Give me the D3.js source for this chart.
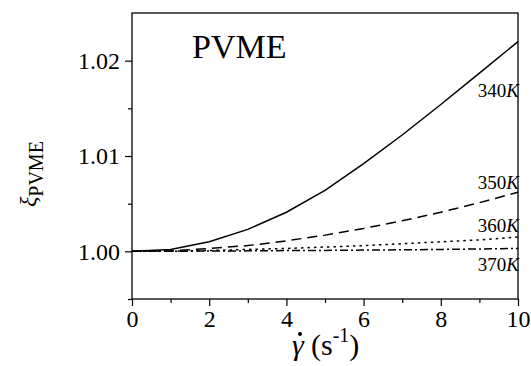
<!DOCTYPE html>
<html><head><meta charset="utf-8">
<script src="https://cdn.jsdelivr.net/npm/d3@7"></script>
<style>
html,body{margin:0;padding:0;background:#fff;}
</style></head>
<body>
<script>
const shearRates = [0,1,2,3,4,5,6,7,8,9,10];
const xi340 = [1.0000,1.0002,1.0010,1.0023,1.0041,1.0064,1.0092,1.0122,1.0154,1.0187,1.0220];
const xi350 = [1.0000,1.00005,1.0003,1.0006,1.0011,1.0017,1.0024,1.0032,1.0041,1.0051,1.0062];
const xi360 = [1.0000,1.00002,1.00008,1.0002,1.0003,1.00045,1.0006,1.0008,1.0010,1.0012,1.0015];
const xi370 = [1.0000,1.00001,1.00003,1.00005,1.00008,1.0001,1.00013,1.00016,1.0002,1.00025,1.0003];
const seriesLabels = ["340","350","360","370"];
const xMajorTicks = [0,2,4,6,8,10];
const xMinorTicks = [1,3,5,7,9];
const yMajorTicks = [1.00,1.01,1.02];
const yMinorTicks = [0.995,1.005,1.015];

const FONT="'Liberation Serif', 'Times New Roman', serif";
const W=531,H=366;
const m={left:132,right:13,top:13,bottom:67};
const svg=d3.select("body").append("svg").attr("width",W).attr("height",H).style("font-family",FONT);
const x=d3.scaleLinear().domain([0,10]).range([m.left,W-m.right]);
const y=d3.scaleLinear().domain([0.995,1.025]).range([H-m.bottom,m.top]);

// frame
svg.append("rect").attr("x",x(0)).attr("y",y(1.025)).attr("width",x(10)-x(0)).attr("height",y(0.995)-y(1.025))
  .attr("fill","none").attr("stroke","#000").attr("stroke-width",1.3);

// axes
svg.append("g").attr("transform",`translate(0,${y(0.995)})`)
  .call(d3.axisBottom(x).tickValues(xMajorTicks).tickSize(7).tickPadding(4).tickFormat(d3.format("d")));
svg.append("g").attr("transform",`translate(0,${y(0.995)})`)
  .call(d3.axisBottom(x).tickValues(xMinorTicks).tickSize(4).tickFormat(""));
svg.append("g").attr("transform",`translate(${x(0)},0)`)
  .call(d3.axisLeft(y).tickValues(yMajorTicks).tickSize(7).tickPadding(5).tickFormat(d3.format(".2f")));
svg.append("g").attr("transform",`translate(${x(0)},0)`)
  .call(d3.axisLeft(y).tickValues(yMinorTicks).tickSize(4).tickFormat(""));
svg.selectAll(".domain").remove();
svg.selectAll("g").attr("font-family",null);
svg.selectAll(".tick line").attr("stroke","#000").attr("stroke-width",1.2);
svg.selectAll(".tick text").style("font-family",FONT).attr("font-size",24).attr("fill","#000");

// lines
const line=d3.line().x((d,i)=>x(shearRates[i])).y(d=>y(d));
const series=[
  {v:xi340,dash:null},
  {v:xi350,dash:"10,6"},
  {v:xi360,dash:"2.5,4"},
  {v:xi370,dash:"8,3,2,3"}
];
series.forEach(s=>{
  svg.append("path").datum(s.v).attr("d",line).attr("fill","none").attr("stroke","#000")
    .attr("stroke-width",1.5).attr("stroke-dasharray",s.dash);
});

// series labels
const labelY=[97,189,232,271];
seriesLabels.forEach((t,i)=>{
  const tx=svg.append("text").attr("x",x(10)+1).attr("y",labelY[i]).attr("text-anchor","end")
    .style("font-family",FONT).attr("font-size",19).attr("fill","#000");
  tx.append("tspan").text(t);
  tx.append("tspan").attr("font-style","italic").text("K");
});

// title
svg.append("text").attr("x",192).attr("y",58).style("font-family",FONT).attr("font-size",34).attr("fill","#000").text("PVME");

// x axis label
const xl=svg.append("text").attr("x",292).attr("y",355).style("font-family",FONT).attr("font-size",30).attr("fill","#000");
xl.append("tspan").attr("font-style","italic").text("γ");
xl.append("tspan").attr("x",311).text("(s");
xl.append("tspan").attr("font-size",20).attr("dy",-13).text("-1");
xl.append("tspan").attr("dy",13).text(")");
svg.append("circle").attr("cx",300).attr("cy",334).attr("r",2).attr("fill","#000");

// y axis label
const yl=svg.append("text").attr("transform","translate(36,207) rotate(-90)").style("font-family",FONT).attr("font-size",24).attr("fill","#000");
yl.append("tspan").attr("font-style","italic").text("ξ");
yl.append("tspan").attr("font-size",20).attr("dy",7).text("PVME");
</script>
</body></html>
